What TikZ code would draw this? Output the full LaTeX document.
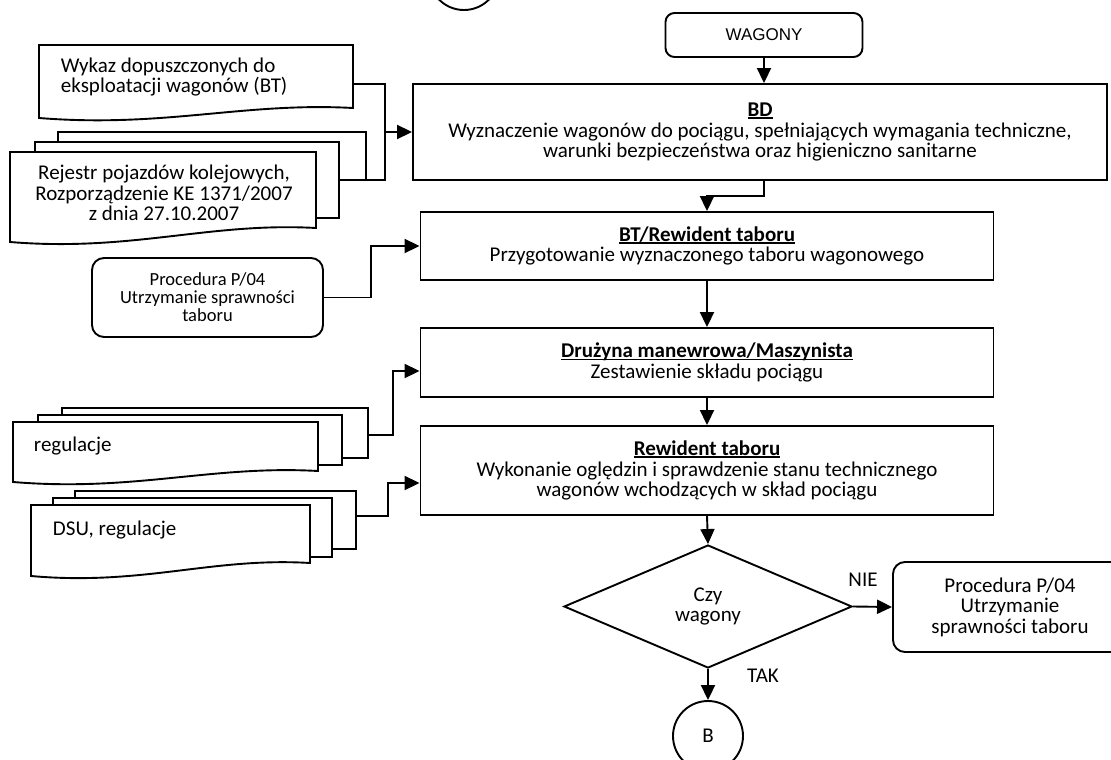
\documentclass[tikz,border=0pt]{standalone}
\usepackage{fontspec}
\setmainfont{Carlito}
\newfontfamily\arialf{Liberation Sans}
\usetikzlibrary{shapes.geometric,arrows.meta}
\newcommand\myul[1]{\setbox0\hbox{#1}\rlap{\rule[-2.2pt]{\wd0}{1.3pt}}\box0}
\begin{document}
\begin{tikzpicture}[x=1pt,y=-1pt,
  line width=1.9pt, line join=miter,
  txt/.style={font=\fontsize{21}{20.5}\selectfont},
  procbox/.style={draw, rectangle, minimum width=573pt, minimum height=#1, align=center, inner sep=2pt, txt},
  doctext/.style={inner sep=0pt, txt},
  sheet/.style={draw, fill=white},
  rbox/.style={draw, rounded corners=12pt, inner sep=0pt, align=center},
  arr/.style={-{Triangle[length=15pt,width=14pt]}},
  lbl/.style={inner sep=0pt, txt},
]
\useasboundingbox (0,0) rectangle (1111,760);
\clip (0,0) rectangle (1111,760);
\fill[white] (0,0) rectangle (1111,760);

% connector circle at top (partly outside)
\node[circle, draw, minimum size=70pt, inner sep=0pt] (A) at (464,-25) {};

% start
\node[rbox, rounded corners=9pt, minimum width=197pt, minimum height=44pt, font=\arialf\fontsize{17}{17}\selectfont] (WAG) at (764,35) {WAGONY};

% process boxes
\node[draw, rectangle, minimum width=694pt, minimum height=96pt, align=center, inner sep=2pt, txt] (BD) at (760,132)
  {\myul{\textbf{BD}}\\Wyznaczenie wagonów do pociągu, spełniających wymagania techniczne,\\warunki bezpieczeństwa oraz higieniczno sanitarne};
\node[procbox=68pt] (BT) at (707,246) {\myul{\textbf{BT/Rewident taboru}}\\Przygotowanie wyznaczonego taboru wagonowego};
\node[procbox=69pt] (DM) at (707,362.5) {\myul{\textbf{Drużyna manewrowa/Maszynista}}\\Zestawienie składu pociągu};
\node[procbox=89pt] (RT) at (707,470.5) {\myul{\textbf{Rewident taboru}}\\Wykonanie oględzin i sprawdzenie stanu technicznego\\wagonów wchodzących w skład pociągu};

% decision
\node[draw, diamond, aspect=2.34, minimum width=288pt, minimum height=123pt, inner sep=0pt, align=center, txt] (D) at (708,606.5) {Czy\\wagony};
\node[rbox, minimum width=234pt, minimum height=90pt, txt] (PR) at (1010,607) {Procedura P/04\\Utrzymanie\\sprawności taboru};
\node[circle, draw, minimum size=70pt, inner sep=0pt, txt] (B) at (708,736) {B};

% left procedure box
\node[rbox, minimum width=231pt, minimum height=79pt, font=\fontsize{18.5}{18}\selectfont] (PL) at (207.5,297.5) {Procedura P/04\\Utrzymanie sprawności\\taboru};

% document: Wykaz
\draw[sheet] (39,45) -- (353,45) -- (353,108) .. controls (243,102) and (165,128) .. (39,118) -- cycle;
\node[doctext, anchor=west, align=left] (T1) at (60,77) {Wykaz dopuszczonych do\\eksploatacji wagonów (BT)};
\coordinate (d1out) at (353,84);

% multi-document: Rejestr
\draw (58,142) -- (58,132) -- (366,132) -- (366,180) -- (339,180);
\draw (35,152) -- (35,142) -- (339,142) -- (339,218) -- (316,218);
\draw[sheet] (10,152) -- (316,152) -- (316,228) .. controls (209,222) and (132,252) .. (10,242) -- cycle;
\node[doctext, align=center] (T2) at (164,193) {Rejestr pojazdów kolejowych,\\Rozporządzenie KE 1371/2007\\z dnia 27.10.2007};
\coordinate (d2out) at (366,180);

% multi-document: regulacje
\draw (62,415) -- (62,408) -- (368,408) -- (368,458) -- (342,458);
\draw (38,422) -- (38,415) -- (342,415) -- (342,465) -- (318,465);
\draw[sheet] (13,422) -- (318,422) -- (318,471) .. controls (211,465) and (135,492) .. (13,482) -- cycle;
\node[doctext, anchor=west] (T3) at (33,446) {regulacje};
\coordinate (d3out) at (368,435);

% multi-document: DSU
\draw (75,498) -- (75,491) -- (356,491) -- (356,549) -- (332,549);
\draw (53,505) -- (53,498) -- (332,498) -- (332,557) -- (310,557);
\draw[sheet] (31,505) -- (310,505) -- (310,563) .. controls (212,557) and (143,586) .. (31,576) -- cycle;
\node[doctext, anchor=west] (T4) at (52,530) {DSU, regulacje};
\coordinate (d4out) at (356,516);

% junction coordinates
\coordinate (m1) at (385,132);
\coordinate (m2) at (371,246);
\coordinate (m3) at (393,371);
\coordinate (m4) at (388,483);
\coordinate (m5) at (707,196);

% connectors
\draw (d1out) -| (m1) |- (d2out);
\draw[arr] (m1) -- (BD.west);
\draw[arr] (PL.east) -| (m2) -- (BT.west);
\draw[arr] (d3out) -| (m3) -- (m3 -| DM.west);
\draw[arr] (d4out) -| (m4) -- (m4 -| RT.west);

\draw[arr] (WAG.south) -- (WAG.south |- BD.north);
\draw[arr] (WAG.south |- BD.south) |- (m5) -- (BT.north);
\draw[arr] (BT.south) -- (DM.north);
\draw[arr] (DM.south) -- (RT.north);
\draw[arr] (RT.south) -- (D.north);
\draw[arr] (D.east) -- (PR.west);
\draw[arr] (D.south) -- (B.north);

\node[lbl] (NIE) at (863,580) {NIE};
\node[lbl] (TAK) at (763,676) {TAK};
\end{tikzpicture}
\end{document}
